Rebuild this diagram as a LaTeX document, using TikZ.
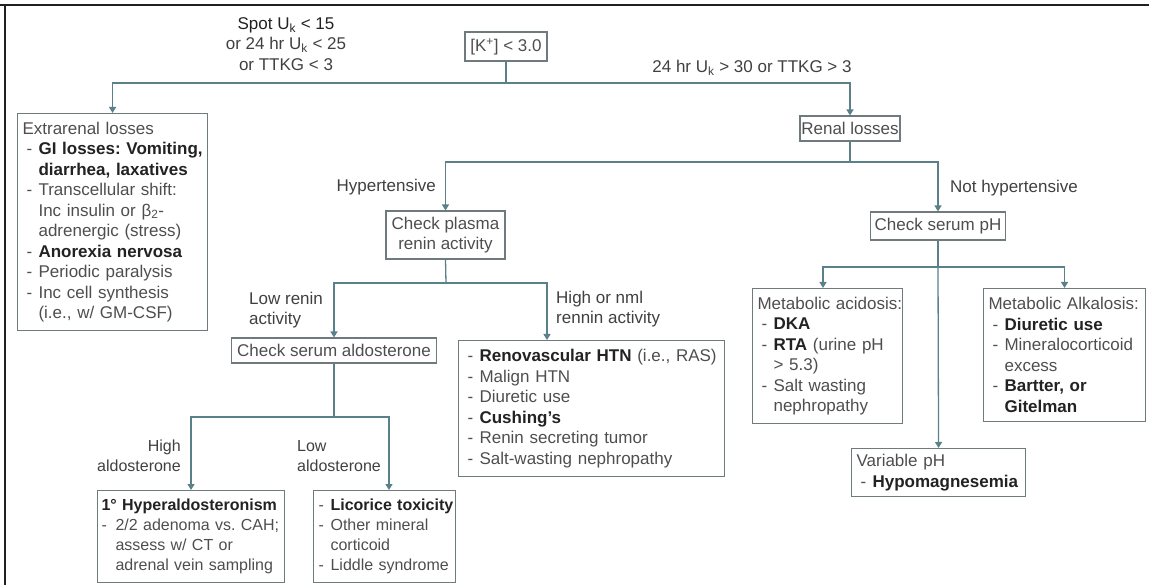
\documentclass[tikz,border=0pt]{standalone}
\usepackage{fontspec}
\setmainfont{Liberation Sans}
\usetikzlibrary{arrows.meta,calc}
\definecolor{txtc}{HTML}{4E4E4E}
\definecolor{lblc}{HTML}{404040}
\definecolor{darkc}{HTML}{222222}
\definecolor{connc}{HTML}{5A8189}
\definecolor{bordc}{HTML}{6E7A7C}
\definecolor{framec}{HTML}{202020}
\frenchspacing
\newlength\dind
\newlength\tind
\setlength\dind{4pt}
\setlength\tind{16pt}
\newcommand{\hd}[1]{\mbox{#1}}
\newcommand{\itm}[1]{\mbox{\hspace*{\dind}\makebox[\dimexpr\tind-\dind\relax][l]{-}#1}}
\newcommand{\cnt}[1]{\mbox{\hspace*{\tind}#1}}
\newcommand{\bb}[1]{{\bfseries\color{darkc}#1}}
\tikzset{
  box/.style={draw=bordc, line width=1.1pt, anchor=north west, align=left, inner xsep=5pt, inner ysep=0pt, text=txtc},
  sbox/.style={draw=bordc, line width=1.1pt, inner sep=0pt, text=txtc},
  lbl/.style={inner sep=0pt, text=lblc},
  cn/.style={draw=connc, line width=1.3pt},
  arr/.style={-{Triangle[width=7pt,length=6pt]}},
  small/.style={font=\fontsize{16}{20}\selectfont},
}
\begin{document}
\begin{tikzpicture}[x=1pt,y=-1pt,font=\fontsize{17}{20.5}\selectfont]
\useasboundingbox (0,0) rectangle (1149,585);
% frame
\draw[framec, line width=2pt] (0,5) -- (1149,5);
\draw[framec, line width=2pt] (5,4) -- (5,585);

% top labels and box
\node[lbl, align=center] (spot) at (286,44) {{\color{darkc}Spot U\textsubscript{k} < 15}\\or 24 hr U\textsubscript{k} < 25\\or TTKG < 3};
\node[sbox, minimum width=82pt, minimum height=29pt] (k) at (506,46.5) {[K\textsuperscript{+}] < 3.0};
\node[lbl] (rlab) at (752,68) {24 hr U\textsubscript{k} > 30 or TTKG > 3};

% level 1
\node[box, text width=180pt, minimum height=217pt] (extra) at (17,113) {%
\hd{Extrarenal losses}\\
\itm{\bb{GI losses: Vomiting,}}\\
\cnt{\bb{diarrhea, laxatives}}\\
\itm{Transcellular shift:}\\
\cnt{Inc insulin or β\textsubscript{2}-}\\
\cnt{adrenergic (stress)}\\
\itm{\bb{Anorexia nervosa}}\\
\itm{Periodic paralysis}\\
\itm{Inc cell synthesis}\\
\cnt{(i.e., w/ GM-CSF)}};
\node[sbox, minimum width=100pt, minimum height=25pt] (renal) at (850,128.5) {Renal losses};

% level 2
\node[lbl, anchor=east] (hyp) at (436,187) {Hypertensive};
\node[lbl, anchor=west] (nhyp) at (950,188) {Not hypertensive};
\node[sbox, minimum width=119pt, minimum height=48pt, align=center] (plasma) at (445.5,235) {Check plasma\\renin activity};
\node[sbox, minimum width=135pt, minimum height=28pt] (ph) at (938,226) {Check serum pH};

% level 3 left
\node[lbl, anchor=west, align=left] (lowr) at (249,310) {Low renin\\activity};
\node[lbl, anchor=west, align=left] (highr) at (556,309) {High or nml\\rennin activity};
\node[sbox, minimum width=205pt, minimum height=25pt] (aldo) at (334,350.5) {Check serum aldosterone};
\node[box, text width=256pt, minimum height=136pt] (renov) at (458,340) {%
\itm{\bb{Renovascular HTN} (i.e., RAS)}\\
\itm{Malign HTN}\\
\itm{Diuretic use}\\
\itm{\bb{Cushing's}}\\
\itm{Renin secreting tumor}\\
\itm{Salt-wasting nephropathy}};

% level 3 right
\node[box, text width=140pt, minimum height=135pt] (acid) at (752,288) {%
\hd{Metabolic acidosis:}\\
\itm{\bb{DKA}}\\
\itm{\bb{RTA} (urine pH}\\
\cnt{> 5.3)}\\
\itm{Salt wasting}\\
\cnt{nephropathy}};
\node[box, text width=152pt, minimum height=133pt] (alk) at (983,288) {%
\hd{Metabolic Alkalosis:}\\
\itm{\bb{Diuretic use}}\\
\itm{Mineralocorticoid}\\
\cnt{excess}\\
\itm{\bb{Bartter, or}}\\
\cnt{\bb{Gitelman}}};
\node[box, text width=164pt, minimum height=48pt] (var) at (851,448) {%
\hd{Variable pH}\\
\itm{\bb{Hypomagnesemia}}};

% level 4
\node[lbl, small, anchor=east, align=right] (highal) at (181,456) {High\\aldosterone};
\node[lbl, small, anchor=west, align=left] (lowal) at (297,456) {Low\\aldosterone};
\node[box, small, inner xsep=4pt, text width=179pt, minimum height=92pt] (hyper) at (97,490) {%
\setlength\dind{0pt}\setlength\tind{14pt}%
\hd{\bb{1° Hyperaldosteronism}}\\
\itm{2/2 adenoma vs. CAH;}\\
\cnt{assess w/ CT or}\\
\cnt{adrenal vein sampling}};
\node[box, small, inner xsep=4pt, text width=134pt, minimum height=92pt] (lic) at (313,490) {%
\setlength\dind{1pt}\setlength\tind{13pt}%
\itm{\bb{Licorice toxicity}}\\
\itm{Other mineral}\\
\cnt{corticoid}\\
\itm{Liddle syndrome}};

% connectors
\coordinate (j1) at (506,83);
\draw[cn] (k.south) -- (j1);
\draw[cn,arr] (j1) -| (extra.north);
\draw[cn,arr] (j1) -| (renal.north);

\coordinate (j2) at (850,162);
\draw[cn] (renal.south) -- (j2);
\draw[cn,arr] (j2) -| (plasma.north);
\draw[cn,arr] (j2) -| (ph.north);

\coordinate (j3) at (446,283);
\coordinate (rvin) at (547,340);
\draw[cn] (plasma.south) -- (j3);
\draw[cn,arr] (j3) -| (aldo.north);
\draw[cn,arr] (j3) -| (rvin);

\coordinate (j4) at (334,417);
\coordinate (licin) at (389,490);
\draw[cn] (aldo.south) -- (j4);
\draw[cn,arr] (j4) -| (hyper.north);
\draw[cn,arr] (j4) -| (licin);

\coordinate (j5) at (938,267);
\coordinate (acin) at (823,288);
\draw[cn] (ph.south) -- (j5);
\draw[cn,arr] (j5) -| (acin);
\draw[cn,arr] (j5) -| (alk.north);
\draw[cn,arr] (j5) -- (var.north);
\end{tikzpicture}
\end{document}
